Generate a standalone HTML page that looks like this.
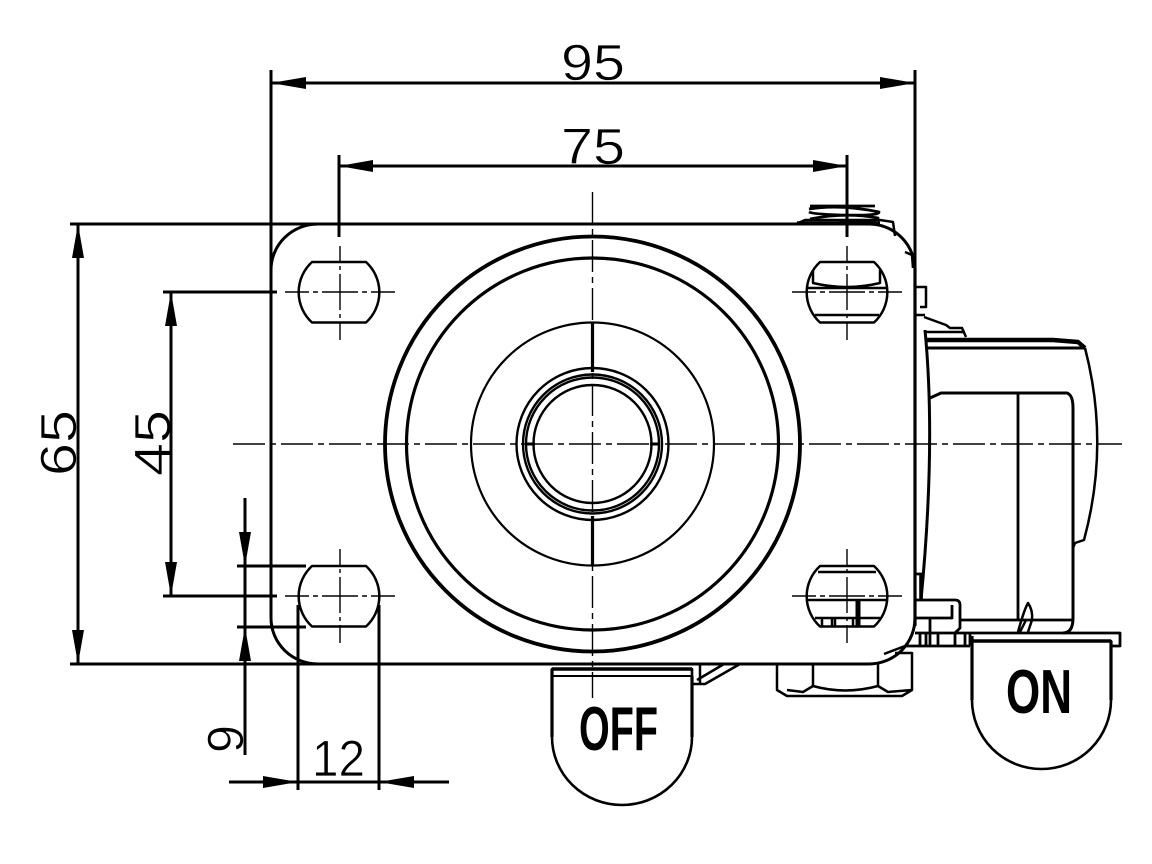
<!DOCTYPE html>
<html>
<head>
<meta charset="utf-8">
<style>
html,body{margin:0;padding:0;background:#fff}
svg{display:block}
text{font-family:"Liberation Sans",sans-serif}
.d{font-size:51px;fill:#000;stroke:#fff;stroke-width:.7px}
.b{font-size:62px;font-weight:bold;fill:#000}
</style>
</head>
<body>
<svg xmlns="http://www.w3.org/2000/svg" width="1152" height="864" viewBox="0 0 1152 864">
<rect width="1152" height="864" fill="#fff"/>
<!-- dimension text -->
<text class="d" x="561" y="80" textLength="64" lengthAdjust="spacingAndGlyphs">95</text>
<text class="d" x="561" y="164" textLength="64" lengthAdjust="spacingAndGlyphs">75</text>
<text class="d" x="312" y="776" textLength="53" lengthAdjust="spacingAndGlyphs">12</text>
<text class="d" transform="translate(76,476) rotate(-90)" textLength="66" lengthAdjust="spacingAndGlyphs">65</text>
<text class="d" transform="translate(170,476) rotate(-90)" textLength="66" lengthAdjust="spacingAndGlyphs">45</text>
<text class="d" transform="translate(243,753) rotate(-90)" textLength="28" lengthAdjust="spacingAndGlyphs">9</text>
<text class="b" x="1006" y="713" textLength="66" lengthAdjust="spacingAndGlyphs">ON</text>
<text class="b" x="579" y="750" textLength="79" lengthAdjust="spacingAndGlyphs">OFF</text>

<g fill="none" stroke="#000" stroke-width="3" stroke-linecap="butt" stroke-linejoin="round">
<!-- dimension lines -->
<path d="M271 83H915M339 166H847M78 224V664M171 292V596M245 498V755M229 782H449"/>
<path d="M271 70V270M915 70V268M339 155V237M847 155V237"/>
<path d="M70 224H318M163 292H277M163 596H277M237 566H306M237 627H306M70 664H320"/>
<path d="M298 605V790M379 605V790"/>
<!-- plate -->
<path d="M318 224H869A46 46 0 0 1 915 270V618A46 46 0 0 1 869 664H318A47 46 0 0 1 271 618V270A47 46 0 0 1 318 224Z"/>
<path d="M915 268V626" stroke-width="3.2"/>
<!-- wheel -->
<circle cx="592.5" cy="444" r="207.5" stroke-width="3.8"/>
<circle cx="592.5" cy="444" r="186" stroke-width="3.2"/>
<circle cx="592.5" cy="444" r="121.5" stroke-width="2.2"/>
<circle cx="592.5" cy="444" r="76" stroke-width="2.4"/>
<circle cx="592.5" cy="444" r="69.5" stroke-width="2.4"/>
<circle cx="592.5" cy="444" r="66.5" stroke-width="2.4"/>
<circle cx="592.5" cy="444" r="59" stroke-width="2.4"/>
<path d="M592.5 323V372M592.5 516V565" stroke-width="3.2"/>
<path d="M527 444H535M650 444H658" stroke-width="3"/>
<!-- slots -->
<g stroke-width="2.5">
<path d="M312 262H366A41 41 0 0 1 366 322.500H312A41 41 0 0 1 312 262Z"/>
<path d="M312 566H366A41 41 0 0 1 366 626.500H312A41 41 0 0 1 312 566Z"/>
<path d="M820 262H874A41 41 0 0 1 874 322.500H820A41 41 0 0 1 820 262Z"/>
<path d="M820 566H874A41 41 0 0 1 874 626.500H820A41 41 0 0 1 820 566Z"/>
</g>
<!-- top right slot details -->
<path d="M813 270V283Q847 291 880 283V270M807 288H887M815 315H879" stroke-width="2.5"/>
<!-- bottom right slot details -->
<path d="M818 572H876M807 600H887M815 618H880M822 618V627M832 618V627M835 618V627M853 618V627" stroke-width="2.5"/>
<path d="M858 600V627" stroke-width="5"/>
<!-- thread -->
<path d="M810 206H875M809 209Q840 204 879 212Q880 216 840 215Q812 214 809 212M810 219Q845 212 878 218Q875 223 840 222" stroke-width="2.8"/>
<path d="M796 224L805 220H880L893 222L895 236M905 252L912 255L913 268" stroke-width="2.5"/>
<path d="M797 223H880" stroke-width="3.4"/>
<!-- right body -->
<path d="M915 287H926V307H920M915 315H925" stroke-width="2.5"/>
<path d="M924 317L946 325L950 328H962L966 337M926 332H965" stroke-width="2.5"/>
<path d="M926 340H1053L1078 342L1085 348" stroke-width="4.4"/>
<path d="M927 348H1085M925 330Q936 444 921 600" stroke-width="3"/>
<path d="M1085 348Q1110 444 1084 540L1075 543L1073 548" stroke-width="2.5"/>
<path d="M930 398L941 393H1067Q1073 395 1073 408V618Q1073 633 1063 633" stroke-width="3"/>
<path d="M1018 393V620M960 620H1073" stroke-width="2.8"/>
<!-- lug -->
<path d="M915 600H955Q960 600 960 605V628L955 633M915 618H952V605M916 574H922M930 618V633" stroke-width="2.8"/>
<path d="M1018 632Q1024 610 1028 603Q1033 610 1032 620L1028 632M1026 620L1020 632" stroke-width="2.5"/>
<path d="M921 575V600" stroke-width="3.6"/>
<!-- strip -->
<path d="M915 633H1120V646H1111M970 646H905M920 633V646M926 633V646M930 633V646M938 633V646M955 633V646M965 633V646M970 633V646" stroke-width="2.8"/>
<!-- ON lever -->
<path d="M972 700V641H1111V700A69.500 69 0 0 1 972 700Z" stroke-width="2.6"/>
<path d="M972 641H1111" stroke-width="3.4"/>
<path d="M972 700V636M1111 641V700" stroke-width="3.2"/>
<!-- OFF lever -->
<path d="M552 737V669H692V737A70 68 0 0 1 552 737Z" stroke-width="2.6"/>
<path d="M552 669H692" stroke-width="3.4"/>
<path d="M552 676H692" stroke-width="2"/>
<path d="M552 669V737M692 676V737" stroke-width="3.2"/>
<path d="M692 684H705L740 664M697 680L724 664M700 665V684" stroke-width="2.5"/>
<!-- nut -->
<path d="M777 664V690L787 696H902L912 690V653H895M813 664V686M878 664V686M813 686Q845 695 878 686L888 692L912 690M813 686L803 692L787 690" stroke-width="2.5"/>
<path d="M884 654L905 646" stroke-width="2.5"/>
</g>

<!-- arrowheads -->
<g fill="#000">
<path d="M271 83L306 77V89ZM915 83L880 77V89Z"/>
<path d="M339 166L373 160V172ZM847 166L813 160V172Z"/>
<path d="M78 224L72 258H84ZM78 664L72 630H84Z"/>
<path d="M171 292L165 326H177ZM171 596L165 562H177Z"/>
<path d="M245 566L239 532H251ZM245 627L239 661H251Z"/>
<path d="M298 782L263 776V788ZM379 782L414 776V788Z"/>
</g>

<!-- centre lines -->
<g fill="none" stroke="#000" stroke-width="1.4">
<path d="M233 444H1122" stroke-dasharray="32 5 6 5"/>
<path d="M592.500 192V698" stroke-dasharray="32 5 6 5"/>
<path d="M285 292H395M285 596H395M792 292H902M792 596H902" stroke-dasharray="24 4 5 4 36 4 5 4 24"/>
<path d="M340 246V340M340 549V644M847 246V340M847 549V644" stroke-dasharray="16 4 4 4 36 4 4 4 18"/>
</g>
</svg>
</body>
</html>
